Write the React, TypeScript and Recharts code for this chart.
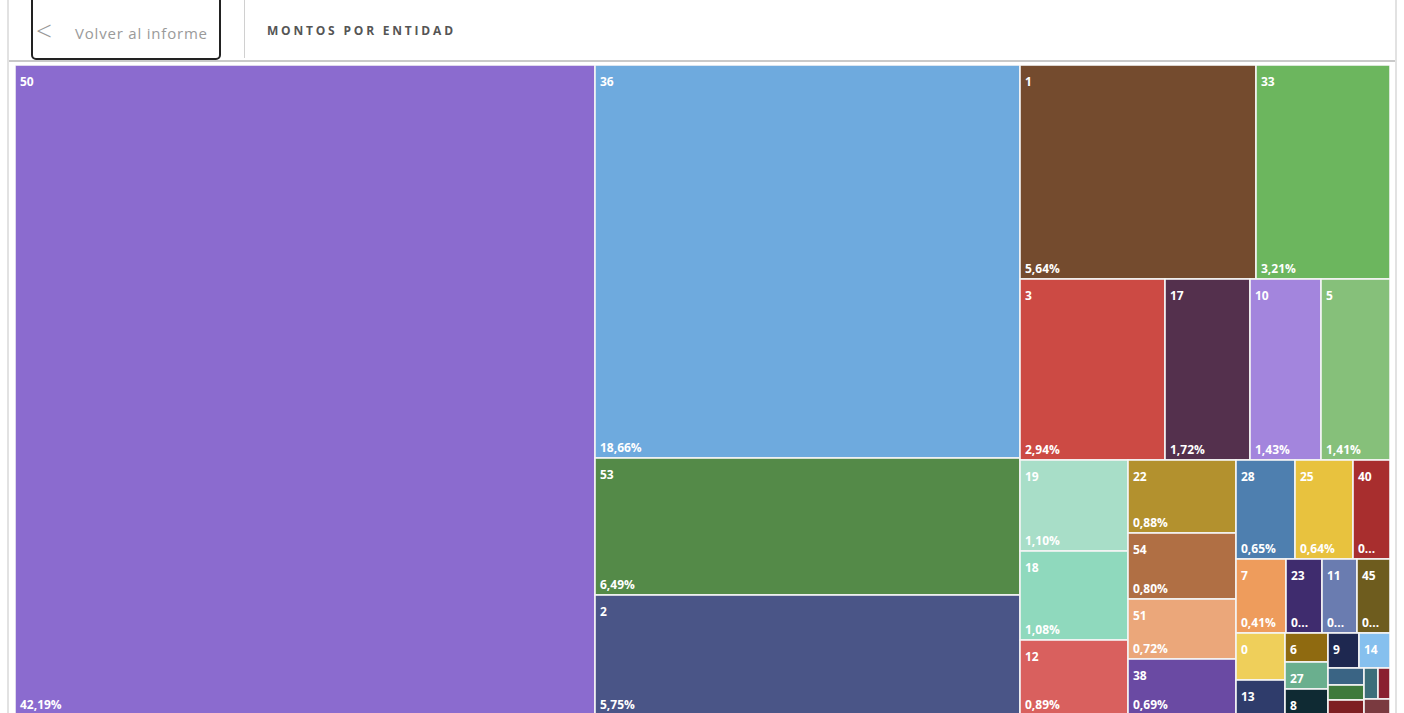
import React from 'react';
import { Treemap } from 'recharts';

const entityNames = ['50', '36', '53', '2', '1', '33', '3', '17', '10', '5', '19', '18', '12', '22', '54', '51', '38', '28', '25', '40', '7', '23', '11', '45', '0', '13', '6', '27', '8', '9', '14', '15', '16', '20', '21', '24', '26'];
const amountShares = [42.19, 18.66, 6.49, 5.75, 5.64, 3.21, 2.94, 1.72, 1.43, 1.41, 1.10, 1.08, 0.89, 0.88, 0.80, 0.72, 0.69, 0.65, 0.64, 0.41, 0.41, 0.30, 0.29, 0.28, 0.26, 0.19, 0.14, 0.13, 0.12, 0.12, 0.12, 0.07, 0.06, 0.06, 0.05, 0.04, 0.03];
const cellColors = ['#8b6bcf', '#6eaade', '#548a48', '#4a5587', '#744b2e', '#6cb65e', '#cc4a44', '#54304d', '#a385dd', '#86c07a', '#a8dec8', '#8fd9bd', '#d9605e', '#b3912e', '#b06f44', '#eba77a', '#6a4aa3', '#4e7faf', '#e8c23e', '#a82e2e', '#ee9c5c', '#3f2c6e', '#6a7cb0', '#6e5c1e', '#efcf5a', '#2f3c6b', '#8f6a10', '#6aaf8e', '#0f2a33', '#1e2850', '#86c0ee', '#3a6484', '#3e7a3c', '#7e1e22', '#3d6e7a', '#8a2030', '#7a3a40'];

const treeData = entityNames.map((name, i) => ({
  name,
  value: amountShares[i],
  color: cellColors[i],
}));

const CHAR_W = 6.8;

function fitText(text: string, avail: number): string {
  if (text.length * CHAR_W <= avail) return text;
  if (4 * CHAR_W <= avail + 6) return text[0] + '...';
  return text[0];
}

const CellContent = (props: any) => {
  const { x, y, width, height, depth, name, color, value } = props;
  if (depth !== 1) return null;
  const pct = Number(value).toFixed(2).replace('.', ',') + '%';
  const avail = width - 8;
  const showName = width >= 16 && height >= 22;
  const showPct = height >= 48 && width >= 16;
  const textStyle = {
    fontFamily: '"Open Sans", "DejaVu Sans", sans-serif',
    fontSize: 12,
    fontWeight: 700,
    fill: '#ffffff',
  } as const;
  return (
    <g>
      <rect x={x} y={y} width={width} height={height} fill={color} stroke="#f4f4f4" strokeWidth={1.6} />
      {showName && (
        <text x={x + 5} y={y + 21} style={textStyle}>
          {fitText(String(name), avail)}
        </text>
      )}
      {showPct && (
        <text x={x + 5} y={y + height - 6} style={textStyle}>
          {fitText(pct, avail)}
        </text>
      )}
    </g>
  );
};

export default function App() {
  return (
    <div
      style={{
        position: 'absolute',
        left: 0,
        top: 0,
        width: 1404,
        height: 713,
        overflow: 'hidden',
        background: '#ffffff',
        fontFamily: '"Open Sans", "DejaVu Sans", sans-serif',
      }}
    >
      {/* panel borders */}
      <div style={{ position: 'absolute', left: 7, top: 0, width: 2, height: 713, background: '#e2e2e2' }} />
      <div style={{ position: 'absolute', left: 1395, top: 0, width: 2, height: 713, background: '#e2e2e2' }} />
      {/* back button */}
      <div
        style={{
          position: 'absolute',
          left: 31,
          top: -6,
          width: 190,
          height: 66,
          border: '2px solid #222',
          borderRadius: 5,
          boxSizing: 'border-box',
        }}
      />
      <div style={{ position: 'absolute', left: 36, top: 14, fontSize: 28, color: '#999', fontWeight: 300, lineHeight: '32px' }}>&lt;</div>
      <div style={{ position: 'absolute', left: 75, top: 23, fontSize: 15, color: '#9a9a9a', letterSpacing: 0.8, lineHeight: '20px' }}>Volver al informe</div>
      <div style={{ position: 'absolute', left: 244, top: 0, width: 1, height: 58, background: '#d0d0d0' }} />
      <div
        style={{
          position: 'absolute',
          left: 267,
          top: 23,
          fontSize: 12,
          color: '#555',
          fontWeight: 700,
          letterSpacing: 2.8,
          lineHeight: '16px',
        }}
      >
        MONTOS POR ENTIDAD
      </div>
      <div style={{ position: 'absolute', left: 9, top: 60, width: 1386, height: 2, background: '#c9c9c9' }} />
      <div style={{ position: 'absolute', left: 15, top: 65 }}>
        <Treemap
          width={1375}
          height={650}
          data={treeData}
          dataKey="value"
          nameKey="name"
          content={<CellContent />}
          isAnimationActive={false}
        />
      </div>
    </div>
  );
}
